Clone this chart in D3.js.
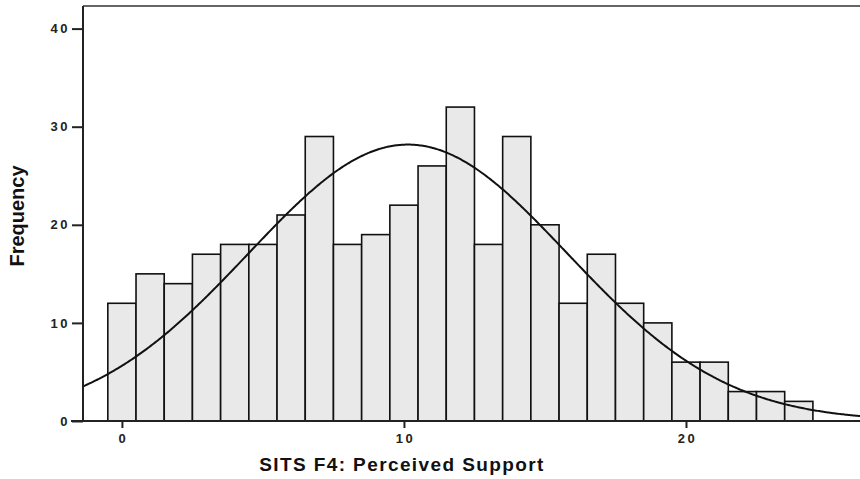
<!DOCTYPE html>
<html>
<head>
<meta charset="utf-8">
<script src="https://cdn.jsdelivr.net/npm/d3@7"></script>
<style>
  html, body { margin: 0; padding: 0; background: #fff; }
  svg { display: block; }
  .tick text { font-family: "Liberation Sans", Arial, sans-serif; font-weight: bold; font-size: 13px; letter-spacing: 2.5px; fill: #222; }
</style>
</head>
<body>
<svg id="chart" width="860" height="479"></svg>
<script>
// Score values (bin centres) and their counts
const scores = [0,1,2,3,4,5,6,7,8,9,10,11,12,13,14,15,16,17,18,19,20,21,22,23,24];
const counts = [12,15,14,17,18,18,21,29,18,19,22,26,32,18,29,20,12,17,12,10,6,6,3,3,2];
const xTicks = [0, 10, 20];
const yTicks = [0, 10, 20, 30, 40];
const xTitle = "SITS F4: Perceived Support";
const yTitle = "Frequency";

const svg = d3.select("#chart");
const margin = { left: 83, top: 6, right: 0, bottom: 58 };
const W = 860, H = 479;

const x = d3.scaleLinear().domain([-1.38, 26.17]).range([margin.left, W - margin.right]);
const y = d3.scaleLinear().domain([0, 40]).range([421, 421 - 40 * 9.81]);

// Frame: top border line
svg.append("line")
  .attr("x1", margin.left).attr("x2", W)
  .attr("y1", margin.top).attr("y2", margin.top)
  .attr("stroke", "#333").attr("stroke-width", 1.5);

// Bars
svg.append("g").selectAll("rect")
  .data(scores)
  .join("rect")
  .attr("x", (d) => x(d - 0.5))
  .attr("width", (d) => x(d + 0.5) - x(d - 0.5))
  .attr("y", (d, i) => y(counts[i]))
  .attr("height", (d, i) => y(0) - y(counts[i]))
  .attr("fill", "#e9e9e9")
  .attr("stroke", "#111")
  .attr("stroke-width", 1.6);

// Fitted normal curve from the counts' mean and standard deviation
const n = d3.sum(counts);
const mean = d3.sum(scores, (s, i) => s * counts[i]) / n;
const variance = d3.sum(scores, (s, i) => counts[i] * (s - mean) ** 2) / (n - 1);
const sd = Math.sqrt(variance);
const density = (v) => n / (sd * Math.sqrt(2 * Math.PI)) * Math.exp(-0.5 * ((v - mean) / sd) ** 2);
const curveX = d3.range(x.domain()[0], x.domain()[1] + 0.01, 0.05);
svg.append("path")
  .datum(curveX)
  .attr("fill", "none")
  .attr("stroke", "#111")
  .attr("stroke-width", 2)
  .attr("d", d3.line().x((v) => x(v)).y((v) => y(density(v))).curve(d3.curveBasis));

// Axes
const yAxis = d3.axisLeft(y).tickValues(yTicks).tickSize(11).tickPadding(2).tickFormat(d3.format("d"));
const gy = svg.append("g").attr("transform", `translate(${margin.left},0)`).call(yAxis);
gy.select(".domain").attr("d", `M0,${margin.top}V421`).attr("stroke", "#222").attr("stroke-width", 2);
gy.selectAll(".tick line").attr("stroke", "#222").attr("stroke-width", 2);

const xAxis = d3.axisBottom(x).tickValues(xTicks).tickSize(7).tickPadding(6).tickFormat(d3.format("d"));
const gx = svg.append("g").attr("transform", "translate(0,421)").call(xAxis);
gx.select(".domain").attr("d", `M${margin.left - 12},0H${W}`).attr("stroke", "#222").attr("stroke-width", 2);
gx.selectAll(".tick line").attr("stroke", "#222").attr("stroke-width", 2);
gx.selectAll(".tick text").attr("dx", "1px");

// Axis titles
svg.append("text")
  .attr("x", 402).attr("y", 471)
  .attr("text-anchor", "middle")
  .attr("font-family", "Liberation Sans, Arial, sans-serif")
  .attr("font-weight", "bold")
  .attr("font-size", 19)
  .attr("letter-spacing", "1.4px")
  .attr("fill", "#111")
  .text(xTitle);

svg.append("text")
  .attr("transform", "translate(24,216) rotate(-90)")
  .attr("text-anchor", "middle")
  .attr("font-family", "Liberation Sans Narrow, Arial Narrow, Liberation Sans, sans-serif")
  .attr("font-weight", "bold")
  .attr("font-size", 20)
  .attr("fill", "#111")
  .text(yTitle);
</script>
</body>
</html>
